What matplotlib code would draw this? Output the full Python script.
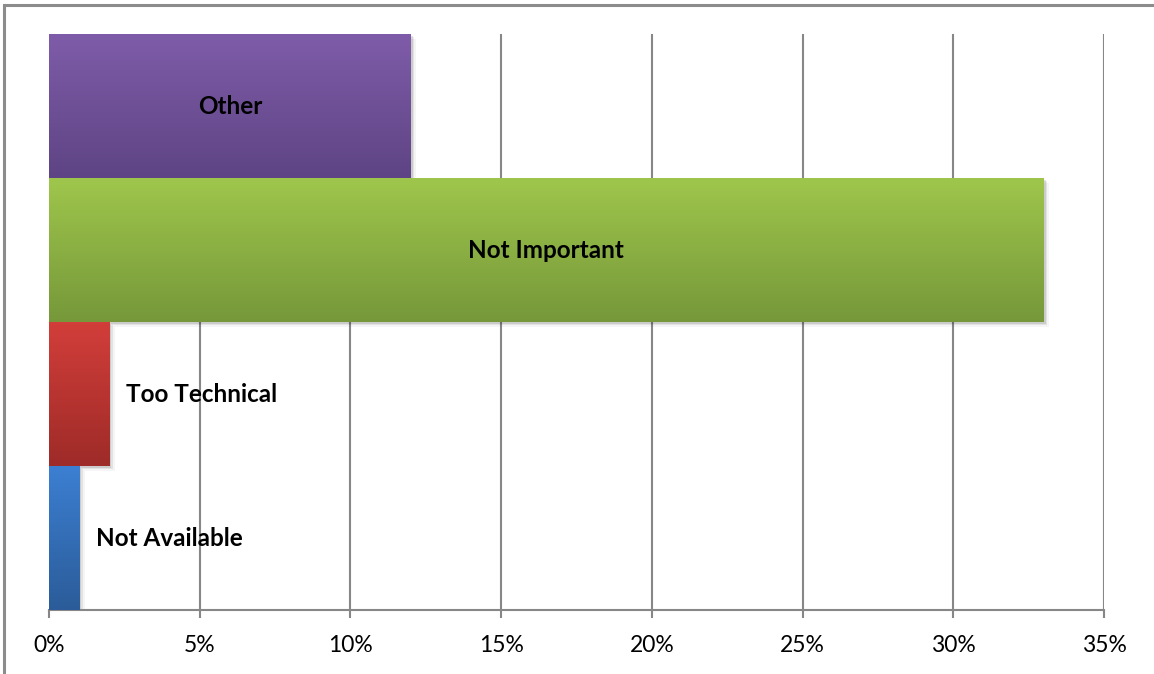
import numpy as np
import matplotlib
matplotlib.use('Agg')
import matplotlib.pyplot as plt
from matplotlib.colors import LinearSegmentedColormap
from matplotlib.patches import Rectangle
from matplotlib.ticker import MultipleLocator, FuncFormatter

plt.rcParams['font.family'] = ['Lato', 'DejaVu Sans']

# --- data (bottom to top) ---
categories = ['Not Available', 'Too Technical', 'Not Important', 'Other']
values = [1, 2, 33, 12]   # percent
# gradient colours: (top, bottom)
bar_colors = [('#3C7FD2', '#2B5C99'),
              ('#D23E3A', '#9E2B28'),
              ('#9FC64C', '#76983A'),
              ('#7F5CA9', '#5E4484')]

fig = plt.figure(figsize=(11.54, 6.74), dpi=100)
ax = fig.add_axes([49 / 1154, 64 / 674, 1055 / 1154, 576 / 674])

# chart border (top and left visible)
fig.patches.append(Rectangle((4 / 1154, -0.1), 1.2, (669 / 674) + 0.1,
                             transform=fig.transFigure, fill=False,
                             edgecolor='#8c8c8c', linewidth=2.2, zorder=0))

h = 1.0
for i, (cat, val, (c_top, c_bot)) in enumerate(zip(categories, values, bar_colors)):
    y0, y1 = i - h / 2, i + h / 2
    # soft shadow
    for k, a in enumerate([0.10, 0.07, 0.04]):
        dx = 0.06 + k * 0.06
        dy = 0.012 + k * 0.01
        ax.add_patch(Rectangle((0, y0 - dy), val + dx, h, facecolor='black',
                               alpha=a, linewidth=0, zorder=2))
    cmap = LinearSegmentedColormap.from_list(cat, [c_bot, c_top])
    grad = np.linspace(0, 1, 256).reshape(-1, 1)
    ax.imshow(grad, cmap=cmap, extent=[0, val, y0, y1], origin='lower',
              aspect='auto', zorder=3, interpolation='bilinear')
    if val > 8:
        ax.text(val / 2, i, cat, ha='center', va='center', fontsize=17.5,
                fontweight='bold', color='black', zorder=5)
    else:
        ax.text(val + 0.55, i, cat, ha='left', va='center', fontsize=17.5,
                fontweight='bold', color='black', zorder=5)

ax.set_xlim(0, 35)
ax.set_ylim(-0.5, len(categories) - 0.5)

ax.xaxis.set_major_locator(MultipleLocator(5))
ax.xaxis.set_major_formatter(FuncFormatter(lambda v, p: f'{int(round(v))}%'))
ax.set_yticks([])
ax.grid(axis='x', color='#878787', linewidth=1.5, zorder=1)
ax.set_axisbelow(True)

for s in ['top', 'right', 'left']:
    ax.spines[s].set_visible(False)
ax.spines['bottom'].set_color('#878787')
ax.spines['bottom'].set_linewidth(1.5)
ax.tick_params(axis='x', direction='out', length=6, width=1.5, color='#878787',
               labelsize=16.5, pad=12, labelcolor='black')

fig.savefig('out.png', dpi=100)
